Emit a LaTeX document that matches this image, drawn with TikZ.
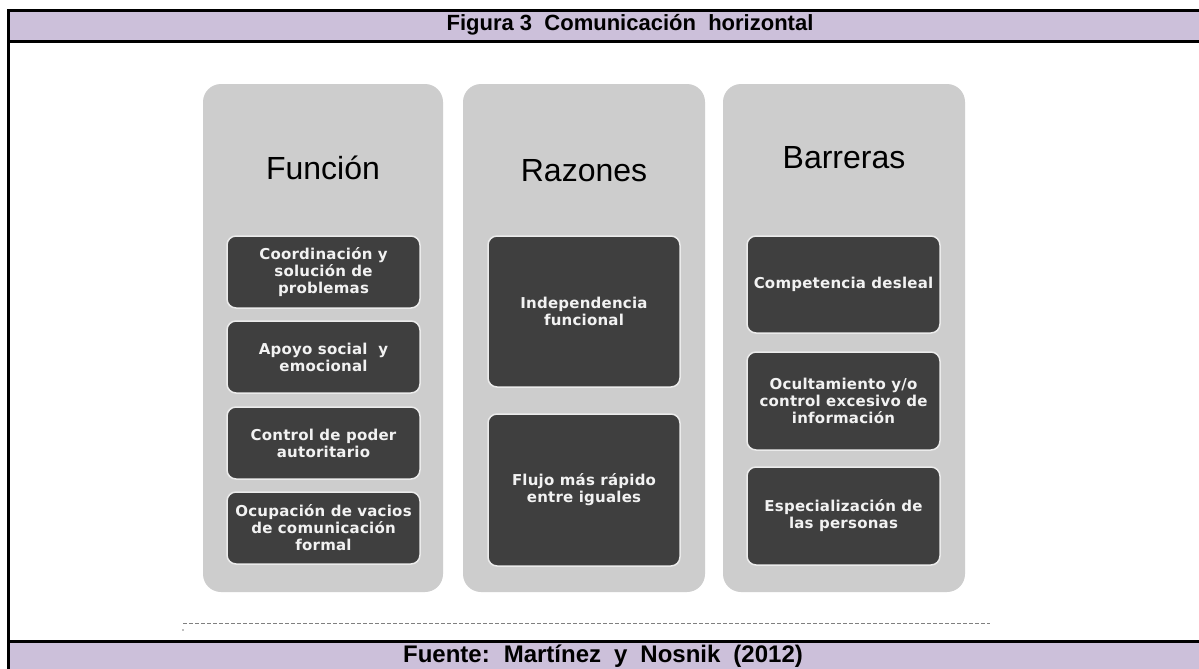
\documentclass[tikz,border=0pt]{standalone}
\usepackage{fontspec}
\setmainfont{Liberation Sans}
\newfontfamily\boxfont[LetterSpace=1.5]{DejaVu Sans}
\definecolor{lav}{HTML}{CCC0DA}
\definecolor{colgray}{HTML}{CDCDCD}
\definecolor{boxdark}{HTML}{3F3F3F}
\begin{document}
\begin{tikzpicture}[x=1pt,y=-1pt,
  column/.style={fill=colgray,draw=none,rounded corners=18pt},
  inbox/.style={fill=boxdark,draw=white!92!black,line width=1.5pt,rounded corners=9pt},
  btext/.style={text=white!95!black,font=\boxfont\bfseries\fontsize{15}{17}\selectfont,align=center},
  title/.style={font=\fontsize{32}{34}\selectfont,text=black},
  band/.style={fill=lav,draw=none}]
\useasboundingbox (0,0) rectangle (1199,669);
\fill[white] (0,0) rectangle (1199,669);
% bands
\fill[band] (7,10) rectangle (1199,42);
\fill[band] (7,641) rectangle (1199,669);
\draw[line width=3pt] (1199,10.5) -- (8.5,10.5) -- (8.5,669);
\draw[line width=3pt] (7,42) -- (1199,42);
\draw[line width=3pt] (7,641) -- (1199,641);
\node[font=\bfseries\fontsize{22}{24}\selectfont] (head) at (630,25) {Figura 3 \ Comunicación \ horizontal};
\node[font=\bfseries\fontsize{24}{26}\selectfont] (foot) at (603,656) {Fuente:\hspace{14pt}Martínez\hspace{13pt}y\hspace{13pt}Nosnik\hspace{13pt}(2012)};
% columns
\fill[column] (203,84) rectangle (443,592);
\fill[column] (463,84) rectangle (705,592);
\fill[column] (723,84) rectangle (965,592);
\node[title] (t1) at (323,168) {Función};
\node[title] (t2) at (584,171) {Razones};
\node[title] (t3) at (844,158) {Barreras};
% Funcion boxes
\draw[inbox] (227,236) rectangle node[btext] (f1) {Coordinación y\\solución de\\problemas} (420,308);
\draw[inbox] (227,321) rectangle node[btext] (f2) {Apoyo social \ y\\emocional} (420,393);
\draw[inbox] (227,407) rectangle node[btext] (f3) {Control de poder\\autoritario} (420,479);
\draw[inbox] (227,492) rectangle node[btext] (f4) {Ocupación de vacios\\de comunicación\\formal} (420,564);
% Razones boxes
\draw[inbox] (488,236) rectangle node[btext] (r1) {Independencia\\funcional} (680,387);
\draw[inbox] (488,414) rectangle node[btext] (r2) {Flujo más rápido\\entre iguales} (680,566);
% Barreras boxes
\draw[inbox] (747,236) rectangle node[btext] (b1) {Competencia desleal} (940,333);
\draw[inbox] (747,352) rectangle node[btext] (b2) {Ocultamiento y/o\\control excesivo de\\información} (940,450);
\draw[inbox] (747,467) rectangle node[btext] (b3) {Especialización de\\las personas} (940,565);
% dashed line
\coordinate (d1) at (183,623);
\coordinate (d2) at (990,623);
\draw[gray,line width=0.8pt,dash pattern=on 4pt off 2pt] (d1) -- (d2);
\fill[gray] (183,630) circle (0.8pt);
\end{tikzpicture}
\end{document}
